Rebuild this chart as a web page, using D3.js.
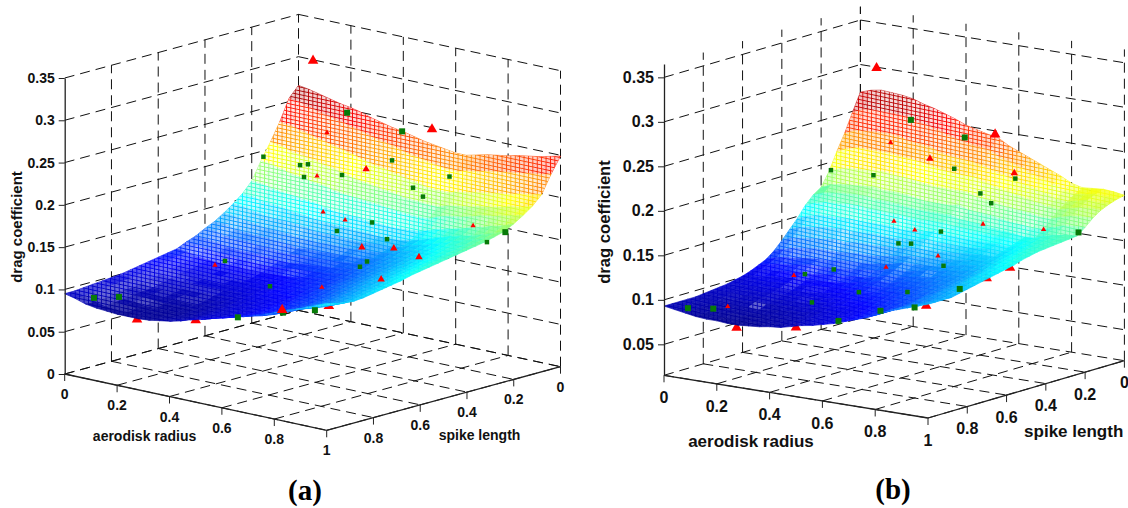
<!DOCTYPE html>
<html>
<head>
<meta charset="utf-8">
<script src="https://cdn.jsdelivr.net/npm/d3@7"></script>
<style>
html, body { margin: 0; padding: 0; background: #fff; }
text { font-family: "Liberation Sans", Arial, sans-serif; font-weight: bold; fill: #111; }
.caption { font-family: "Liberation Serif", "Times New Roman", serif; fill: #000; }
</style>
</head>
<body>
<svg id="canvas" width="1128" height="508"></svg>
<script>
// grid positions on both floor axes (surface rows are spike length, columns aerodisk radius)
const gridPos = [0,.04,.08,.12,.16,.2,.24,.28,.32,.36,.4,.44,.48,.52,.56,.6,.64,.68,.72,.76,.8,.84,.88,.92,.96,1];

const xTicks = [0, 0.2, 0.4, 0.6, 0.8, 1];
const yTicks = [0, 0.2, 0.4, 0.6, 0.8];
const gridTicks = [0, 0.2, 0.4, 0.6, 0.8, 1];
const zTicksA = [0, 0.05, 0.1, 0.15, 0.2, 0.25, 0.3, 0.35];
const zTicksB = [0.05, 0.1, 0.15, 0.2, 0.25, 0.3, 0.35];

// drag coefficient x 1000
const surfaceA = [
[266,264,261,258,255,253,250,246,243,240,238,235,232,230,228,226,226,229,232,234,236,239,241,243,246,249],
[254,252,248,245,242,239,236,233,229,226,224,220,217,215,212,210,210,213,215,218,220,222,224,226,228,231],
[229,227,224,221,218,215,212,209,205,202,200,197,194,192,189,188,188,191,193,196,198,200,202,205,207,210],
[208,206,202,200,198,195,193,189,186,184,182,180,178,176,175,174,174,178,180,182,185,187,190,193,195,199],
[189,187,184,181,179,177,175,172,170,169,168,167,165,164,163,162,163,168,171,173,176,180,182,185,188,191],
[168,167,164,162,161,159,158,155,153,152,152,150,150,149,149,150,151,155,159,162,165,169,172,176,179,184],
[156,155,152,151,149,147,146,144,143,142,142,141,141,140,140,141,143,147,151,155,159,162,165,169,173,178],
[147,146,143,141,140,140,139,137,135,135,135,134,134,135,136,136,138,143,146,150,154,159,162,166,170,175],
[139,138,136,134,132,132,131,129,129,128,129,129,129,130,131,132,134,139,142,146,150,155,159,162,167,172],
[132,132,128,127,126,126,125,124,122,123,123,124,124,126,126,128,130,135,138,143,148,152,157,160,165,170],
[127,126,123,122,122,120,120,118,118,119,119,120,121,122,123,125,128,132,136,140,145,149,154,158,162,168],
[121,120,118,116,115,115,115,114,113,113,115,116,117,118,120,121,125,130,133,137,142,147,152,155,160,166],
[117,116,114,112,112,110,110,109,109,110,112,113,114,115,117,119,123,127,131,135,140,144,149,154,159,164],
[112,111,108,107,106,106,106,105,105,106,107,108,110,112,114,116,120,124,129,133,138,143,147,152,157,162],
[110,109,106,104,104,103,103,103,102,103,105,106,108,110,112,115,118,122,127,131,136,141,145,150,155,160],
[108,107,104,102,101,101,101,100,100,101,103,104,107,108,111,113,116,121,125,129,134,139,143,148,153,158],
[106,104,102,100,99,98,98,98,98,99,101,102,105,107,109,111,115,119,123,127,132,137,141,146,151,156],
[104,102,99,97,96,96,96,96,96,97,98,100,103,105,106,108,112,116,120,125,129,134,138,143,148,153],
[102,100,97,95,94,93,93,93,93,94,96,98,101,103,104,107,111,114,118,122,127,132,137,141,146,151],
[100,98,95,92,92,91,91,91,90,92,94,96,99,101,103,105,109,113,116,120,125,130,134,139,144,149],
[99,97,93,91,90,89,89,88,88,90,91,94,97,99,102,104,108,112,115,118,123,128,133,137,142,147],
[98,96,92,90,89,88,87,87,87,88,90,93,96,97,100,103,107,110,113,118,123,127,131,135,140,145],
[97,94,91,88,87,85,85,85,85,87,89,91,95,96,99,102,106,109,112,117,122,126,130,134,139,144],
[96,93,89,87,86,85,85,85,85,86,88,91,95,96,99,102,106,110,113,117,122,127,131,135,140,145],
[95,92,88,85,84,83,83,84,84,86,88,91,95,97,101,104,108,111,114,118,123,129,133,137,142,147],
[95,92,88,86,85,84,84,84,85,87,89,92,96,99,103,106,110,113,117,121,126,131,135,140,145,150]
];

const surfaceB = [
[269,273,275,274,273,271,267,264,260,256,251,248,245,243,236,231,226,221,216,211,205,202,203,204,203,201],
[249,254,255,255,255,254,250,248,245,241,237,235,233,231,225,221,217,212,208,205,199,197,199,201,200,199],
[228,233,234,235,236,235,231,230,228,224,221,220,219,217,213,210,206,203,200,197,192,191,194,197,196,196],
[210,215,218,218,218,218,216,215,213,211,208,207,206,206,202,199,196,194,191,189,186,185,188,191,192,192],
[190,195,197,198,199,200,198,197,196,194,192,192,192,192,188,187,184,182,181,180,177,177,181,184,185,186],
[175,180,182,183,184,185,183,183,182,180,178,178,178,180,176,175,174,172,170,169,167,168,172,176,177,178],
[169,173,175,176,177,177,175,175,174,172,171,171,171,171,168,167,166,164,163,162,160,161,165,168,170,171],
[160,164,167,167,169,169,167,167,166,166,164,164,165,165,163,162,161,160,159,159,157,159,163,166,169,170],
[148,152,155,156,156,157,156,156,156,156,154,155,156,158,156,156,155,155,155,155,154,157,160,164,167,169],
[138,142,144,146,147,148,147,147,148,147,147,148,149,152,150,150,150,150,151,152,151,154,158,163,166,168],
[128,133,134,136,137,139,137,139,139,139,140,140,143,144,144,144,145,146,147,148,148,152,156,161,164,167],
[119,123,126,127,129,129,129,130,131,131,132,134,136,138,138,139,140,141,143,145,146,149,154,159,163,166],
[112,116,118,119,121,122,122,124,125,125,126,128,130,133,133,134,135,137,139,142,143,147,152,157,161,164],
[108,111,113,114,116,118,117,118,119,120,122,123,126,128,128,130,133,134,136,138,140,144,150,155,159,162],
[104,107,108,110,111,112,112,113,115,115,117,118,120,124,124,126,128,129,133,135,137,141,146,152,156,159],
[101,103,104,106,107,108,108,109,110,111,112,115,117,120,120,123,125,127,129,133,135,139,144,150,154,157],
[99,101,102,103,104,105,104,106,107,108,109,111,114,117,117,120,122,124,127,130,133,137,142,148,152,155],
[97,98,99,100,101,102,101,102,103,104,106,108,111,113,114,117,119,121,124,128,131,135,140,146,150,153],
[96,97,97,98,98,99,99,99,101,102,103,105,107,111,112,114,116,119,123,126,129,133,138,144,148,151],
[95,96,96,95,96,97,96,97,98,98,101,102,105,108,109,111,114,117,120,123,126,131,137,141,145,149],
[94,94,94,93,93,95,94,94,95,96,98,99,102,105,107,109,111,114,118,121,124,131,135,139,143,147],
[93,93,92,91,91,91,90,92,93,94,95,97,99,102,104,106,108,112,115,119,123,129,133,137,141,145],
[93,92,91,90,90,90,89,89,90,91,93,94,97,100,101,104,107,110,114,117,121,127,131,135,139,143],
[93,92,90,89,88,89,88,88,89,90,92,93,96,99,100,103,106,109,113,116,121,127,131,135,139,143],
[93,92,90,88,87,87,86,86,87,88,90,91,94,97,99,102,105,108,112,116,121,127,131,135,139,143],
[93,91,89,87,86,86,85,85,86,87,89,90,93,96,98,101,104,108,112,116,121,127,131,135,139,143]
];

// scattered samples [aerodisk radius, spike length, drag coefficient]
const redAboveA = [[.234,.2,.326],[.688,.2,.275],[.83,1,.131]];
const redMidA = [[.615,.4,.238],[.688,.5,.158],[.81,.5,.165],[.906,.5,.161],[.94,.7,.152]];
const redBehindA = [[.276,1,.083],[.5,1,.097],[.919,.9,.134]];
const redBitsA = [[.54,.5,.19],[.517,.5,.231],[.555,.5,.285],[.624,.5,.186],[.395,.8,.14],[.934,.3,.185],[.803,.8,.141]];
const greenAboveA = [[.364,.2,.273],[.574,.2,.265],[.968,.2,.172],[.833,1,.128],[.661,1,.111],[.955,1,.139],[.0225,.9,.084],[.0286,.8,.078]];
const greenBitsA = [[0,.15,.193],[.363,.4,.226],[.393,.4,.229],[.378,.4,.213],[.523,.4,.225],[.714,.4,.255],[.794,.4,.228],[.832,.4,.22],[.844,.3,.237],[.593,.5,.171],[.727,.5,.19],[.784,.5,.174],[.987,.3,.169],[.344,.7,.134],[.605,.8,.129],[.77,.6,.148],[.797,.6,.156]];

const redAboveB = [[.21,.2,.319],[.659,.2,.266]];
const redMidB = [[.561,.4,.247],[.806,.3,.236]];
const redBehindB = [[.275,1,.082],[.5,1,.093],[.956,.95,.136],[.962,.65,.148],[.976,.55,.154]];
const redBitsB = [[.412,.4,.258],[.499,.5,.18],[.578,.5,.174],[.762,.4,.183],[.917,.3,.178],[.269,.7,.121],[.167,.9,.094],[.618,.7,.147],[.666,.5,.149]];
const greenAboveB = [[.34,.2,.267],[.544,.2,.257],[.975,.2,.171],[.661,1,.108],[.82,1,.127],[.912,.95,.132],[.897,.7,.136],[.0165,.9,.085],[.075,.85,.084]];
const greenBitsB = [[0,.15,.191],[.347,.4,.218],[.653,.4,.24],[.752,.4,.217],[.793,.4,.208],[.81,.3,.23],[.677,.5,.177],[.564,.5,.158],[.516,.5,.156],[.42,.7,.135],[.515,.7,.114],[.724,.55,.144],[.699,.7,.123],[.385,.8,.1345],[.486,.9,.114]];

const svg = d3.select("#canvas");

// white holes between the wires, skewed to follow the floor direction
const hatch = svg.append("defs").append("pattern")
    .attr("id", "holes")
    .attr("patternUnits", "userSpaceOnUse")
    .attr("width", 4.4)
    .attr("height", 3.8)
    .attr("patternTransform", "skewY(12)");
hatch.append("rect")
    .attr("x", 0.9).attr("y", 0.9)
    .attr("width", 3.5).attr("height", 2.9)
    .attr("fill", "#fff");

// matlab jet
const jet = d3.scaleLinear()
    .domain([0, .125, .375, .625, .875, 1])
    .range(["#00008f", "#0000ff", "#00ffff", "#ffff00", "#ff0000", "#800000"]);

function drawPanel(p) {
    const g = svg.append("g");

    // oblique axes: each floor direction and the height get their own scale
    const xDx = d3.scaleLinear().domain([0, 1]).range([0, p.xVec[0]]);
    const xDy = d3.scaleLinear().domain([0, 1]).range([0, p.xVec[1]]);
    const yDx = d3.scaleLinear().domain([1, 0]).range([0, p.yVec[0]]);
    const yDy = d3.scaleLinear().domain([1, 0]).range([0, p.yVec[1]]);
    const zScale = d3.scaleLinear().domain(p.zDomain).range([0, -p.zPx]);

    function proj(x, y, z) {
        return [p.origin[0] + xDx(x) + yDx(y), p.origin[1] + xDy(x) + yDy(y) + zScale(z)];
    }

    const lineGen = d3.line();
    const zMin = p.zDomain[0], zMax = p.zDomain[1];

    // dashed box grid
    const grid = g.append("g")
        .attr("fill", "none")
        .attr("stroke", "#111")
        .attr("stroke-width", 1)
        .attr("stroke-dasharray", "10,6");
    function gridLine(a, b) {
        grid.append("path").attr("d", lineGen([proj(...a), proj(...b)]));
    }
    gridTicks.forEach(function(t) {
        gridLine([t, 1, zMin], [t, 0, zMin]);
        gridLine([0, t, zMin], [1, t, zMin]);
        gridLine([t, 0, zMin], [t, 0, zMax]);
        if (t < 1) gridLine([0, t, zMin], [0, t, zMax]);
    });
    p.zTicks.forEach(function(t) {
        gridLine([0, 1, t], [0, 0, t]);
        gridLine([0, 0, t], [1, 0, t]);
    });

    // points hidden in part by the surface go first
    function markers(list, type, size, color) {
        g.append("g").selectAll("path")
            .data(list)
            .enter()
            .append("path")
            .attr("d", d3.symbol().type(type).size(size))
            .attr("fill", color)
            .attr("transform", function(d) {
                return "translate(" + proj(d[0], d[1], d[2]) + ")";
            });
    }
    markers(p.redBehind, d3.symbolTriangle, 48, "#ff0000");

    // surface, far corner first
    const flat = p.surface.flat();
    const tScale = d3.scaleLinear().domain(d3.extent(flat)).range([0, 1]);
    const cells = [];
    for (let j = 0; j < gridPos.length - 1; j++) {
        for (let i = 0; i < gridPos.length - 1; i++) {
            const h = [p.surface[j][i], p.surface[j][i + 1], p.surface[j + 1][i + 1], p.surface[j + 1][i]];
            const pts = [
                proj(gridPos[i], gridPos[j], h[0] / 1000),
                proj(gridPos[i + 1], gridPos[j], h[1] / 1000),
                proj(gridPos[i + 1], gridPos[j + 1], h[2] / 1000),
                proj(gridPos[i], gridPos[j + 1], h[3] / 1000)
            ];
            const area = Math.abs(d3.polygonArea(pts));
            const half = d3.polygonLength(pts) / 2;
            // flat looking faces pack the wires tight, steep ones leave holes
            const cover = Math.min(0.95, 0.12 + 2.6 * half / Math.max(area, 1));
            cells.push({pts: pts, t: tScale(d3.mean(h)), holes: Math.max(0.06, Math.min(0.9, (1 - cover) * 1.7))});
        }
    }
    const faces = g.append("g");
    faces.selectAll("path.face")
        .data(cells)
        .enter()
        .append("path")
        .attr("class", "face")
        .attr("d", function(d) { return lineGen(d.pts) + "Z"; })
        .attr("stroke", function(d) { return jet(d.t); })
        .attr("stroke-width", 0.6)
        .attr("fill", function(d) { return jet(d.t); });
    faces.selectAll("path.holes")
        .data(cells)
        .enter()
        .append("path")
        .attr("class", "holes")
        .attr("d", function(d) { return lineGen(d.pts) + "Z"; })
        .attr("fill", "url(#holes)")
        .attr("opacity", function(d) { return d.holes; });

    markers(p.greenBits, d3.symbolSquare, 20, "#087a08");
    markers(p.redBits, d3.symbolTriangle, 12, "#ff0000");
    markers(p.redMid, d3.symbolTriangle, 24, "#ff0000");
    markers(p.greenAbove, d3.symbolSquare, 36, "#087a08");
    markers(p.redAbove, d3.symbolTriangle, 48, "#ff0000");

    // height axis
    const zAxisScale = d3.scaleLinear()
        .domain(p.zDomain)
        .range([p.origin[1], p.origin[1] - p.zPx]);
    const zAxis = g.append("g")
        .attr("transform", "translate(" + p.origin[0] + ",0)")
        .call(d3.axisLeft(zAxisScale)
            .tickValues(p.zTicks)
            .tickFormat(d3.format("~g"))
            .tickSize(6)
            .tickSizeOuter(0));
    zAxis.select(".domain").attr("stroke", "#222").attr("stroke-width", 1.3);
    zAxis.selectAll(".tick line").attr("stroke", "#222");
    zAxis.selectAll("text")
        .attr("x", -10)
        .style("font-size", p.tickFont + "px")
        .style("font-family", '"Liberation Sans"');

    // floor axes
    const axes = g.append("g").attr("fill", "none").attr("stroke", "#222").attr("stroke-width", 1.3);
    axes.append("path").attr("d", lineGen([proj(0, 1, zMin), proj(1, 1, zMin)]));
    axes.append("path").attr("d", lineGen([proj(1, 1, zMin), proj(1, 0, zMin)]));

    function floorTick(x, y, label) {
        const c = proj(x, y, zMin);
        axes.append("path").attr("stroke-width", 1).attr("d", lineGen([c, [c[0], c[1] + 7]]));
        g.append("text")
            .attr("x", c[0])
            .attr("y", c[1] + p.labelGap)
            .attr("dy", ".36em")
            .attr("text-anchor", "middle")
            .style("font-size", p.tickFont + "px")
            .text(label);
    }
    xTicks.forEach(function(t) { floorTick(t, 1, t); });
    yTicks.forEach(function(t) { floorTick(1, t, t); });

    // titles
    g.append("text").attr("x", p.xTitle[0]).attr("y", p.xTitle[1]).attr("dy", ".36em")
        .attr("text-anchor", "middle").style("font-size", p.titleFont + "px").text("aerodisk radius");
    g.append("text").attr("x", p.yTitle[0]).attr("y", p.yTitle[1]).attr("dy", ".36em")
        .attr("text-anchor", "middle").style("font-size", p.titleFont + "px").text("spike length");
    g.append("text")
        .attr("transform", "translate(" + p.zTitle[0] + "," + p.zTitle[1] + ") rotate(-90)")
        .attr("dy", ".36em")
        .attr("text-anchor", "middle")
        .style("font-size", p.zFont + "px")
        .text("drag coefficient");
    g.append("text")
        .attr("class", "caption")
        .attr("x", p.caption[0]).attr("y", p.caption[1]).attr("dy", ".33em")
        .attr("text-anchor", "middle")
        .style("font-size", p.captionFont + "px")
        .text(p.name);
}

drawPanel({
    name: "(a)",
    surface: surfaceA,
    origin: [64.7, 374],
    xVec: [262, 56.3],
    yVec: [233.8, -63.6],
    zDomain: [0, 0.35],
    zPx: 296,
    zTicks: zTicksA,
    tickFont: 14, titleFont: 14, zFont: 15, captionFont: 29,
    labelGap: 20,
    xTitle: [144.6, 436], yTitle: [479.5, 435], zTitle: [17, 227], caption: [305, 490],
    redAbove: redAboveA, redMid: redMidA, redBehind: redBehindA, redBits: redBitsA,
    greenAbove: greenAboveA, greenBits: greenBitsA
});

drawPanel({
    name: "(b)",
    surface: surfaceB,
    origin: [664, 375.3],
    xVec: [264, 42.7],
    yVec: [196.4, -57.3],
    zDomain: [0.0152, 0.365],
    zPx: 311.3,
    zTicks: zTicksB,
    tickFont: 16, titleFont: 17, zFont: 16.6, captionFont: 29,
    labelGap: 22,
    xTitle: [751, 441], yTitle: [1073.7, 431], zTitle: [604, 222], caption: [893, 489],
    redAbove: redAboveB, redMid: redMidB, redBehind: redBehindB, redBits: redBitsB,
    greenAbove: greenAboveB, greenBits: greenBitsB
});
</script>
</body>
</html>
